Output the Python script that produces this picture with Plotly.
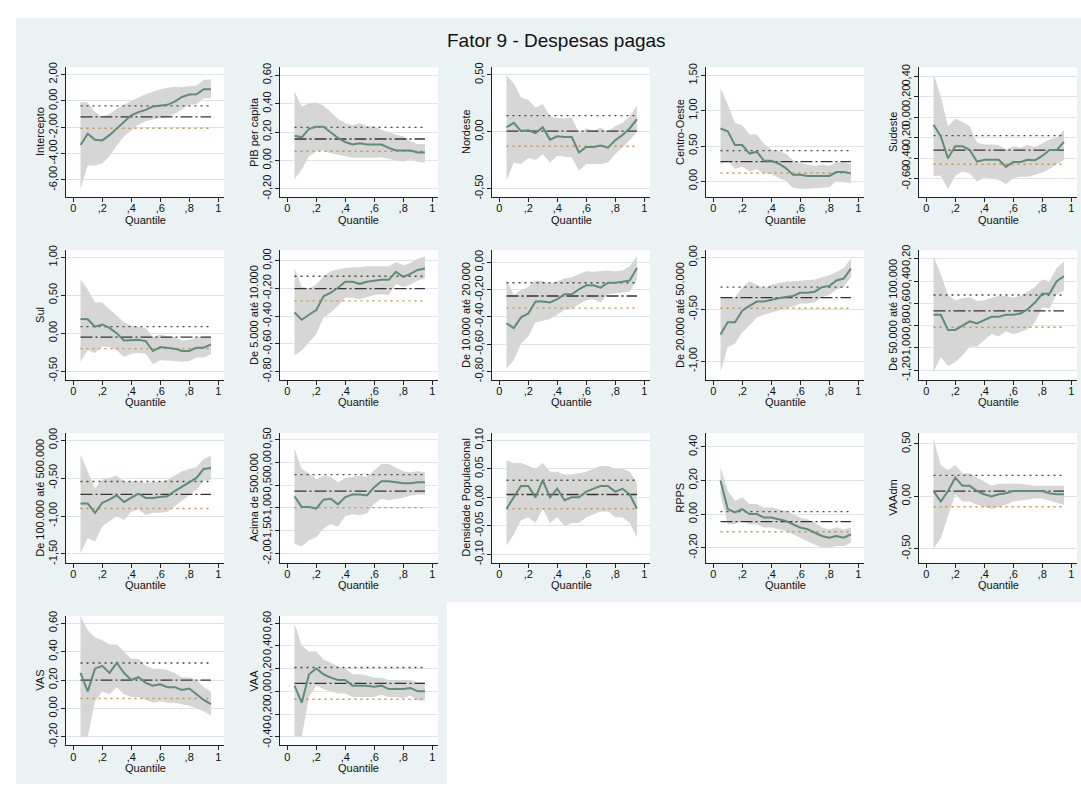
import plotly.graph_objects as go

W, H = 1081, 787

quantiles = [0.05, 0.10, 0.15, 0.20, 0.25, 0.30, 0.35, 0.40, 0.45, 0.50,
             0.55, 0.60, 0.65, 0.70, 0.75, 0.80, 0.85, 0.90, 0.95]
ols_x = [0.05, 0.95]

# ---- data: quantile coefficient, upper CI, lower CI, OLS (coef, upper, lower)
intercepto_coef = [-3.35, -2.5, -2.95, -3.0, -2.6, -2.1, -1.55, -1.1, -0.85, -0.68, -0.42, -0.35, -0.3, -0.05, 0.3, 0.48, 0.5, 0.88, 0.88]
intercepto_hi = [-0.1, -0.12, -0.85, -1.2, -1.0, -0.6, -0.3, 0.0, 0.25, 0.5, 0.7, 0.88, 1.0, 1.08, 1.03, 1.13, 1.15, 1.58, 1.65]
intercepto_lo = [-6.68, -4.9, -4.9, -4.75, -4.2, -3.4, -2.7, -2.25, -1.8, -1.55, -1.4, -1.3, -1.25, -1.0, -0.68, -0.3, -0.25, 0.2, 0.2]
intercepto_ols = [-1.22, -0.38, -2.08]

pib_coef = [0.174, 0.163, 0.223, 0.237, 0.237, 0.2, 0.158, 0.13, 0.112, 0.121, 0.112, 0.112, 0.112, 0.088, 0.07, 0.07, 0.07, 0.056, 0.056]
pib_hi = [0.488, 0.379, 0.402, 0.409, 0.386, 0.34, 0.293, 0.263, 0.247, 0.263, 0.24, 0.24, 0.216, 0.2, 0.181, 0.17, 0.135, 0.116, 0.116]
pib_lo = [-0.13, -0.063, 0.03, 0.065, 0.07, 0.051, 0.042, 0.03, 0.019, 0.014, 0.019, 0.019, 0.023, 0.014, 0.0, -0.009, 0.007, -0.009, -0.016]
pib_ols = [0.151, 0.233, 0.065]

nordeste_coef = [0.04, 0.078, 0.006, 0.012, -0.012, 0.04, -0.069, -0.04, -0.046, -0.046, -0.182, -0.133, -0.133, -0.121, -0.139, -0.075, -0.029, 0.029, 0.11]
nordeste_hi = [0.497, 0.425, 0.3, 0.28, 0.214, 0.243, 0.136, 0.121, 0.116, 0.127, -0.009, 0.029, 0.012, 0.035, 0.0, 0.049, 0.078, 0.136, 0.231]
nordeste_lo = [-0.428, -0.269, -0.283, -0.231, -0.249, -0.197, -0.269, -0.211, -0.22, -0.225, -0.341, -0.283, -0.283, -0.283, -0.269, -0.197, -0.133, -0.075, 0.0]
nordeste_ols = [0.006, 0.142, -0.127]

centro_coef = [0.748, 0.71, 0.514, 0.514, 0.393, 0.42, 0.29, 0.29, 0.252, 0.187, 0.093, 0.093, 0.075, 0.075, 0.075, 0.075, 0.131, 0.131, 0.112]
centro_hi = [1.318, 1.093, 0.827, 0.794, 0.664, 0.664, 0.533, 0.453, 0.43, 0.393, 0.299, 0.266, 0.234, 0.22, 0.234, 0.22, 0.266, 0.266, 0.243]
centro_lo = [0.243, 0.29, 0.173, 0.206, 0.14, 0.173, 0.112, 0.103, 0.047, 0.009, -0.093, -0.107, -0.107, -0.093, -0.093, -0.084, 0.0, -0.009, -0.028]
centro_ols = [0.28, 0.435, 0.117]

sudeste_coef = [-0.071, -0.183, -0.399, -0.28, -0.28, -0.318, -0.431, -0.412, -0.412, -0.412, -0.482, -0.434, -0.434, -0.412, -0.418, -0.376, -0.318, -0.318, -0.238]
sudeste_hi = [0.428, 0.203, -0.087, -0.013, -0.045, -0.087, -0.248, -0.264, -0.264, -0.27, -0.312, -0.28, -0.296, -0.27, -0.289, -0.248, -0.215, -0.199, -0.119]
sudeste_lo = [-0.569, -0.569, -0.698, -0.569, -0.527, -0.547, -0.624, -0.585, -0.592, -0.611, -0.65, -0.592, -0.579, -0.579, -0.559, -0.537, -0.505, -0.457, -0.418]
sudeste_ols = [-0.318, -0.177, -0.457]

sul_coef = [0.187, 0.183, 0.087, 0.113, 0.07, 0.0, -0.096, -0.096, -0.087, -0.104, -0.235, -0.183, -0.191, -0.204, -0.235, -0.235, -0.191, -0.191, -0.148]
sul_hi = [0.709, 0.578, 0.404, 0.404, 0.317, 0.23, 0.143, 0.1, 0.087, 0.07, -0.052, -0.017, -0.043, -0.052, -0.096, -0.087, -0.061, -0.043, -0.043]
sul_lo = [-0.378, -0.226, -0.261, -0.174, -0.183, -0.226, -0.313, -0.27, -0.261, -0.27, -0.409, -0.357, -0.357, -0.365, -0.378, -0.365, -0.322, -0.322, -0.278]
sul_ols = [-0.052, 0.087, -0.204]

pop5_coef = [-0.374, -0.426, -0.39, -0.357, -0.257, -0.231, -0.195, -0.152, -0.152, -0.167, -0.152, -0.143, -0.138, -0.138, -0.081, -0.117, -0.095, -0.067, -0.057]
pop5_hi = [-0.052, -0.19, -0.2, -0.171, -0.112, -0.076, -0.064, -0.052, -0.048, -0.048, -0.04, -0.04, -0.04, -0.04, -0.01, -0.033, -0.017, 0.014, 0.031]
pop5_lo = [-0.683, -0.648, -0.588, -0.529, -0.41, -0.374, -0.326, -0.267, -0.267, -0.279, -0.262, -0.248, -0.243, -0.248, -0.167, -0.19, -0.171, -0.143, -0.129]
pop5_ols = [-0.202, -0.112, -0.29]

pop10_coef = [-0.447, -0.483, -0.404, -0.375, -0.288, -0.288, -0.295, -0.271, -0.234, -0.234, -0.198, -0.169, -0.169, -0.186, -0.15, -0.15, -0.143, -0.133, -0.041]
pop10_hi = [-0.126, -0.239, -0.205, -0.181, -0.133, -0.138, -0.157, -0.138, -0.118, -0.109, -0.085, -0.065, -0.07, -0.065, -0.06, -0.065, -0.06, -0.029, 0.044]
pop10_lo = [-0.778, -0.718, -0.597, -0.544, -0.44, -0.428, -0.416, -0.384, -0.35, -0.343, -0.307, -0.278, -0.271, -0.295, -0.234, -0.23, -0.222, -0.215, -0.126]
pop10_ols = [-0.247, -0.15, -0.336]

pop20_coef = [-0.743, -0.625, -0.625, -0.514, -0.467, -0.425, -0.425, -0.413, -0.394, -0.381, -0.371, -0.34, -0.34, -0.33, -0.286, -0.276, -0.222, -0.203, -0.108]
pop20_hi = [-0.387, -0.381, -0.387, -0.292, -0.229, -0.26, -0.298, -0.26, -0.244, -0.235, -0.229, -0.222, -0.213, -0.213, -0.19, -0.171, -0.14, -0.102, -0.013]
pop20_lo = [-1.102, -0.863, -0.832, -0.721, -0.657, -0.578, -0.552, -0.53, -0.508, -0.489, -0.476, -0.444, -0.444, -0.435, -0.381, -0.362, -0.308, -0.286, -0.19]
pop20_ols = [-0.387, -0.286, -0.489]

pop50_coef = [-0.703, -0.703, -0.839, -0.839, -0.8, -0.762, -0.78, -0.75, -0.721, -0.721, -0.703, -0.703, -0.691, -0.653, -0.593, -0.514, -0.514, -0.401, -0.357]
pop50_hi = [-0.179, -0.336, -0.525, -0.573, -0.555, -0.543, -0.579, -0.573, -0.549, -0.534, -0.534, -0.549, -0.534, -0.49, -0.454, -0.386, -0.401, -0.283, -0.224]
pop50_lo = [-1.215, -1.082, -1.164, -1.126, -1.067, -0.987, -0.987, -0.934, -0.875, -0.898, -0.851, -0.875, -0.86, -0.83, -0.771, -0.638, -0.644, -0.52, -0.484]
pop50_ols = [-0.667, -0.525, -0.815]

pop100_coef = [-0.835, -0.835, -0.957, -0.826, -0.783, -0.726, -0.813, -0.757, -0.704, -0.761, -0.761, -0.748, -0.739, -0.67, -0.609, -0.552, -0.496, -0.378, -0.365]
pop100_hi = [-0.183, -0.422, -0.639, -0.522, -0.496, -0.465, -0.552, -0.539, -0.539, -0.565, -0.552, -0.552, -0.522, -0.465, -0.409, -0.378, -0.357, -0.248, -0.204]
pop100_lo = [-1.487, -1.291, -1.335, -1.139, -1.074, -1.0, -1.052, -0.943, -0.913, -0.987, -0.957, -0.957, -0.943, -0.87, -0.791, -0.726, -0.652, -0.53, -0.522]
pop100_ols = [-0.713, -0.543, -0.9]

pop500_coef = [-0.746, -0.978, -0.978, -1.014, -0.819, -0.797, -0.92, -0.761, -0.703, -0.703, -0.725, -0.543, -0.413, -0.413, -0.435, -0.457, -0.457, -0.435, -0.435]
pop500_hi = [0.312, -0.145, -0.239, -0.362, -0.29, -0.312, -0.435, -0.341, -0.312, -0.29, -0.312, -0.167, -0.036, -0.036, -0.109, -0.196, -0.217, -0.196, -0.217]
pop500_lo = [-1.79, -1.848, -1.703, -1.645, -1.449, -1.355, -1.413, -1.181, -1.138, -1.159, -1.123, -0.906, -0.797, -0.833, -0.797, -0.775, -0.725, -0.703, -0.703]
pop500_ols = [-0.63, -0.268, -0.993]

dens_coef = [-0.02, 0.0, 0.02, 0.02, 0.0, 0.03, 0.0, 0.015, -0.005, 0.0, 0.0, 0.01, 0.015, 0.02, 0.02, 0.01, 0.015, 0.005, -0.02]
dens_hi = [0.065, 0.06, 0.06, 0.055, 0.05, 0.06, 0.045, 0.045, 0.04, 0.04, 0.042, 0.045, 0.05, 0.055, 0.055, 0.05, 0.05, 0.045, 0.025]
dens_lo = [-0.085, -0.065, -0.04, -0.035, -0.045, -0.02, -0.045, -0.035, -0.05, -0.045, -0.045, -0.035, -0.03, -0.025, -0.025, -0.035, -0.035, -0.045, -0.07]
dens_ols = [0.005, 0.03, -0.02]

rpps_coef = [0.2, 0.03, 0.01, 0.03, 0.0, 0.0, -0.02, -0.02, -0.03, -0.04, -0.06, -0.08, -0.09, -0.11, -0.13, -0.14, -0.13, -0.14, -0.12]
rpps_hi = [0.28, 0.14, 0.08, 0.1, 0.06, 0.06, 0.04, 0.04, 0.03, 0.02, 0.0, -0.02, -0.03, -0.05, -0.08, -0.09, -0.08, -0.09, -0.08]
rpps_lo = [0.12, -0.06, -0.06, -0.04, -0.06, -0.06, -0.08, -0.08, -0.09, -0.1, -0.12, -0.14, -0.16, -0.18, -0.2, -0.2, -0.19, -0.19, -0.17]
rpps_ols = [-0.045, 0.015, -0.105]

vaadm_coef = [0.05, -0.05, 0.05, 0.18, 0.1, 0.1, 0.05, 0.02, 0.0, 0.02, 0.03, 0.05, 0.05, 0.05, 0.05, 0.05, 0.03, 0.02, 0.02]
vaadm_hi = [0.55, 0.3, 0.25, 0.3, 0.22, 0.22, 0.18, 0.14, 0.1, 0.12, 0.12, 0.12, 0.12, 0.11, 0.1, 0.1, 0.1, 0.1, 0.1]
vaadm_lo = [-0.5, -0.4, -0.2, 0.02, -0.05, -0.05, -0.08, -0.1, -0.12, -0.1, -0.08, -0.05, -0.04, -0.03, -0.02, -0.02, -0.04, -0.06, -0.08]
vaadm_ols = [0.05, 0.2, -0.1]

vas_coef = [0.25, 0.12, 0.28, 0.3, 0.25, 0.32, 0.25, 0.2, 0.22, 0.18, 0.16, 0.17, 0.15, 0.15, 0.13, 0.14, 0.1, 0.06, 0.03]
vas_hi = [0.65, 0.55, 0.5, 0.48, 0.45, 0.45, 0.4, 0.35, 0.35, 0.3, 0.28, 0.28, 0.27, 0.25, 0.22, 0.22, 0.2, 0.15, 0.12]
vas_lo = [-0.2, -0.2, 0.05, 0.12, 0.1, 0.15, 0.1, 0.08, 0.08, 0.06, 0.04, 0.05, 0.04, 0.04, 0.03, 0.02, 0.0, -0.02, -0.05]
vas_ols = [0.2, 0.32, 0.07]

vaa_coef = [0.05, -0.1, 0.15, 0.2, 0.15, 0.12, 0.1, 0.1, 0.05, 0.05, 0.05, 0.04, 0.05, 0.02, 0.02, 0.02, 0.03, 0.0, 0.0]
vaa_hi = [0.6, 0.4, 0.35, 0.35, 0.28, 0.25, 0.22, 0.2, 0.15, 0.15, 0.14, 0.12, 0.12, 0.1, 0.1, 0.1, 0.1, 0.08, 0.08]
vaa_lo = [-0.4, -0.4, -0.05, 0.05, 0.02, 0.0, -0.02, -0.02, -0.05, -0.05, -0.05, -0.05, -0.03, -0.05, -0.05, -0.06, -0.04, -0.08, -0.08]
vaa_ols = [0.07, 0.21, -0.07]

panel_titles = ["Intercepto", "PIB per capita", "Nordeste", "Centro-Oeste", "Sudeste",
                "Sul", "De 5.000 até 10.000", "De 10.000 até 20.000", "De 20.000 até 50.000", "De 50.000 até 100.000",
                "De 100.000 até 500.000", "Acima de 500.000", "Densidade Populacional", "RPPS", "VAAdm",
                "VAS", "VAA"]

x_tick_vals = [0, 0.2, 0.4, 0.6, 0.8, 1]
x_tick_text = ["0", ",2", ",4", ",6", ",8", "1"]

series = [
    (intercepto_coef, intercepto_hi, intercepto_lo, intercepto_ols),
    (pib_coef, pib_hi, pib_lo, pib_ols),
    (nordeste_coef, nordeste_hi, nordeste_lo, nordeste_ols),
    (centro_coef, centro_hi, centro_lo, centro_ols),
    (sudeste_coef, sudeste_hi, sudeste_lo, sudeste_ols),
    (sul_coef, sul_hi, sul_lo, sul_ols),
    (pop5_coef, pop5_hi, pop5_lo, pop5_ols),
    (pop10_coef, pop10_hi, pop10_lo, pop10_ols),
    (pop20_coef, pop20_hi, pop20_lo, pop20_ols),
    (pop50_coef, pop50_hi, pop50_lo, pop50_ols),
    (pop100_coef, pop100_hi, pop100_lo, pop100_ols),
    (pop500_coef, pop500_hi, pop500_lo, pop500_ols),
    (dens_coef, dens_hi, dens_lo, dens_ols),
    (rpps_coef, rpps_hi, rpps_lo, rpps_ols),
    (vaadm_coef, vaadm_hi, vaadm_lo, vaadm_ols),
    (vas_coef, vas_hi, vas_lo, vas_ols),
    (vaa_coef, vaa_hi, vaa_lo, vaa_ols),
]

y_ticks = [
    [-6, -4, -2, 0, 2], [-0.2, 0, 0.2, 0.4, 0.6], [-0.5, 0, 0.5], [0, 0.5, 1, 1.5],
    [-0.6, -0.4, -0.2, 0, 0.2, 0.4], [-0.5, 0, 0.5, 1], [-0.8, -0.6, -0.4, -0.2, 0],
    [-0.8, -0.6, -0.4, -0.2, 0], [-1, -0.5, 0], [-1.2, -1, -0.8, -0.6, -0.4, -0.2],
    [-1.5, -1, -0.5, 0], [-2, -1.5, -1, -0.5, 0, 0.5], [-0.1, -0.05, 0, 0.05, 0.1],
    [-0.2, 0, 0.2, 0.4], [-0.5, 0, 0.5], [-0.2, 0, 0.2, 0.4, 0.6], [-0.4, -0.2, 0, 0.2, 0.4, 0.6],
]

# ---- layout / style (not data)
y_ranges = [
    [-7.28, 2.55], [-0.256, 0.656], [-0.571, 0.566], [-0.22, 1.617], [-0.774, 0.489],
    [-0.613, 1.095], [-0.859, 0.076], [-0.861, 0.089], [-1.178, 0.07], [-1.285, -0.123],
    [-1.613, 0.095], [-2.2, 0.646], [-0.1143, 0.1127], [-0.288, 0.482], [-0.632, 0.604],
    [-0.26, 0.651], [-0.476, 0.663],
]
col_left = [66, 280, 492, 706, 919]
row_tb = [(62, 193), (247, 378), (432, 563), (617, 748)]
PLOT_W = 158

BG = "#EAF2F3"
GRID = "#DCE6EA"
BAND = "#D6D6D6"
LINE = "#5E8C7A"
FONT = "Liberation Sans, Arial, sans-serif"


def fmt(v):
    return f"{v:.2f}".replace(".", ",")


fig = go.Figure()
layout = {}
annotations = []
shapes = [
    dict(type="rect", xref="paper", yref="paper", x0=16 / W, x1=1.0, y0=1 - 603 / H, y1=1 - 12 / H,
         fillcolor=BG, line=dict(width=0), layer="below"),
    dict(type="rect", xref="paper", yref="paper", x0=16 / W, x1=447 / W, y0=0.0, y1=1 - 600 / H,
         fillcolor=BG, line=dict(width=0), layer="below"),
]

for i, (coef, hi, lo, ols) in enumerate(series):
    r, c = divmod(i, 5)
    left = col_left[c]
    top, bottom = row_tb[r]
    sfx = "" if i == 0 else str(i + 1)
    xa, ya = "x" + sfx, "y" + sfx

    shapes.append(dict(type="rect", xref="paper", yref="paper",
                       x0=left / W, x1=(left + PLOT_W) / W, y0=1 - bottom / H, y1=1 - top / H,
                       fillcolor="white", line=dict(width=0), layer="below"))

    fig.add_trace(go.Scatter(x=quantiles + quantiles[::-1], y=hi + lo[::-1], fill="toself",
                             fillcolor=BAND, line=dict(width=0), mode="lines",
                             xaxis=xa, yaxis=ya, hoverinfo="skip", showlegend=False))
    styles = [("12px,3px,2px,3px", "#3a3030", 1.3), ("2px,4px", "#4a4a44", 1.4), ("2px,4px", "#C8913A", 1.4)]
    for val, (dash, col, wd) in zip(ols, styles):
        fig.add_trace(go.Scatter(x=ols_x, y=[val, val], mode="lines",
                                 line=dict(color=col, width=wd, dash=dash),
                                 xaxis=xa, yaxis=ya, hoverinfo="skip", showlegend=False))
    fig.add_trace(go.Scatter(x=quantiles, y=coef, mode="lines", line=dict(color=LINE, width=2),
                             xaxis=xa, yaxis=ya, showlegend=False))

    layout["xaxis" + sfx] = dict(
        domain=[left / W, (left + PLOT_W) / W], range=[-0.05, 1.04], anchor=ya,
        tickvals=x_tick_vals, ticktext=x_tick_text, showgrid=False, zeroline=False,
        showline=True, linecolor="#222", linewidth=1, ticks="outside", ticklen=4,
        tickcolor="#222", ticklabelstandoff=-3, tickfont=dict(family=FONT, size=11, color="#111"))
    layout["yaxis" + sfx] = dict(
        domain=[1 - bottom / H, 1 - top / H], range=y_ranges[i], anchor=xa,
        tickvals=y_ticks[i], ticktext=[fmt(v) for v in y_ticks[i]], tickangle=-90,
        showgrid=True, gridcolor=GRID, gridwidth=1, zeroline=False,
        showline=True, linecolor="#222", linewidth=1, ticks="outside", ticklen=4,
        tickcolor="#222", tickfont=dict(family=FONT, size=11, color="#111"))

    annotations.append(dict(text=panel_titles[i], xref="paper", yref="paper",
                            x=(left - 26) / W, y=1 - ((top + bottom) / 2) / H,
                            textangle=-90, showarrow=False, xanchor="center", yanchor="middle",
                            font=dict(family=FONT, size=11, color="#111")))
    annotations.append(dict(text="Quantile", xref="paper", yref="paper",
                            x=(left + PLOT_W / 2) / W, y=1 - (bottom + 23) / H,
                            showarrow=False, xanchor="center", yanchor="middle",
                            font=dict(family=FONT, size=11, color="#111")))

annotations.append(dict(text="Fator 9 - Despesas pagas", xref="paper", yref="paper",
                        x=556 / W, y=1 - 35 / H, showarrow=False, xanchor="center", yanchor="middle",
                        font=dict(family=FONT, size=19, color="#111")))

fig.update_layout(
    width=W, height=H, margin=dict(l=0, r=0, t=0, b=0),
    paper_bgcolor="white", plot_bgcolor="white",
    showlegend=False, annotations=annotations, shapes=shapes,
    font=dict(family=FONT),
    **layout,
)

fig.write_html("out.html")
